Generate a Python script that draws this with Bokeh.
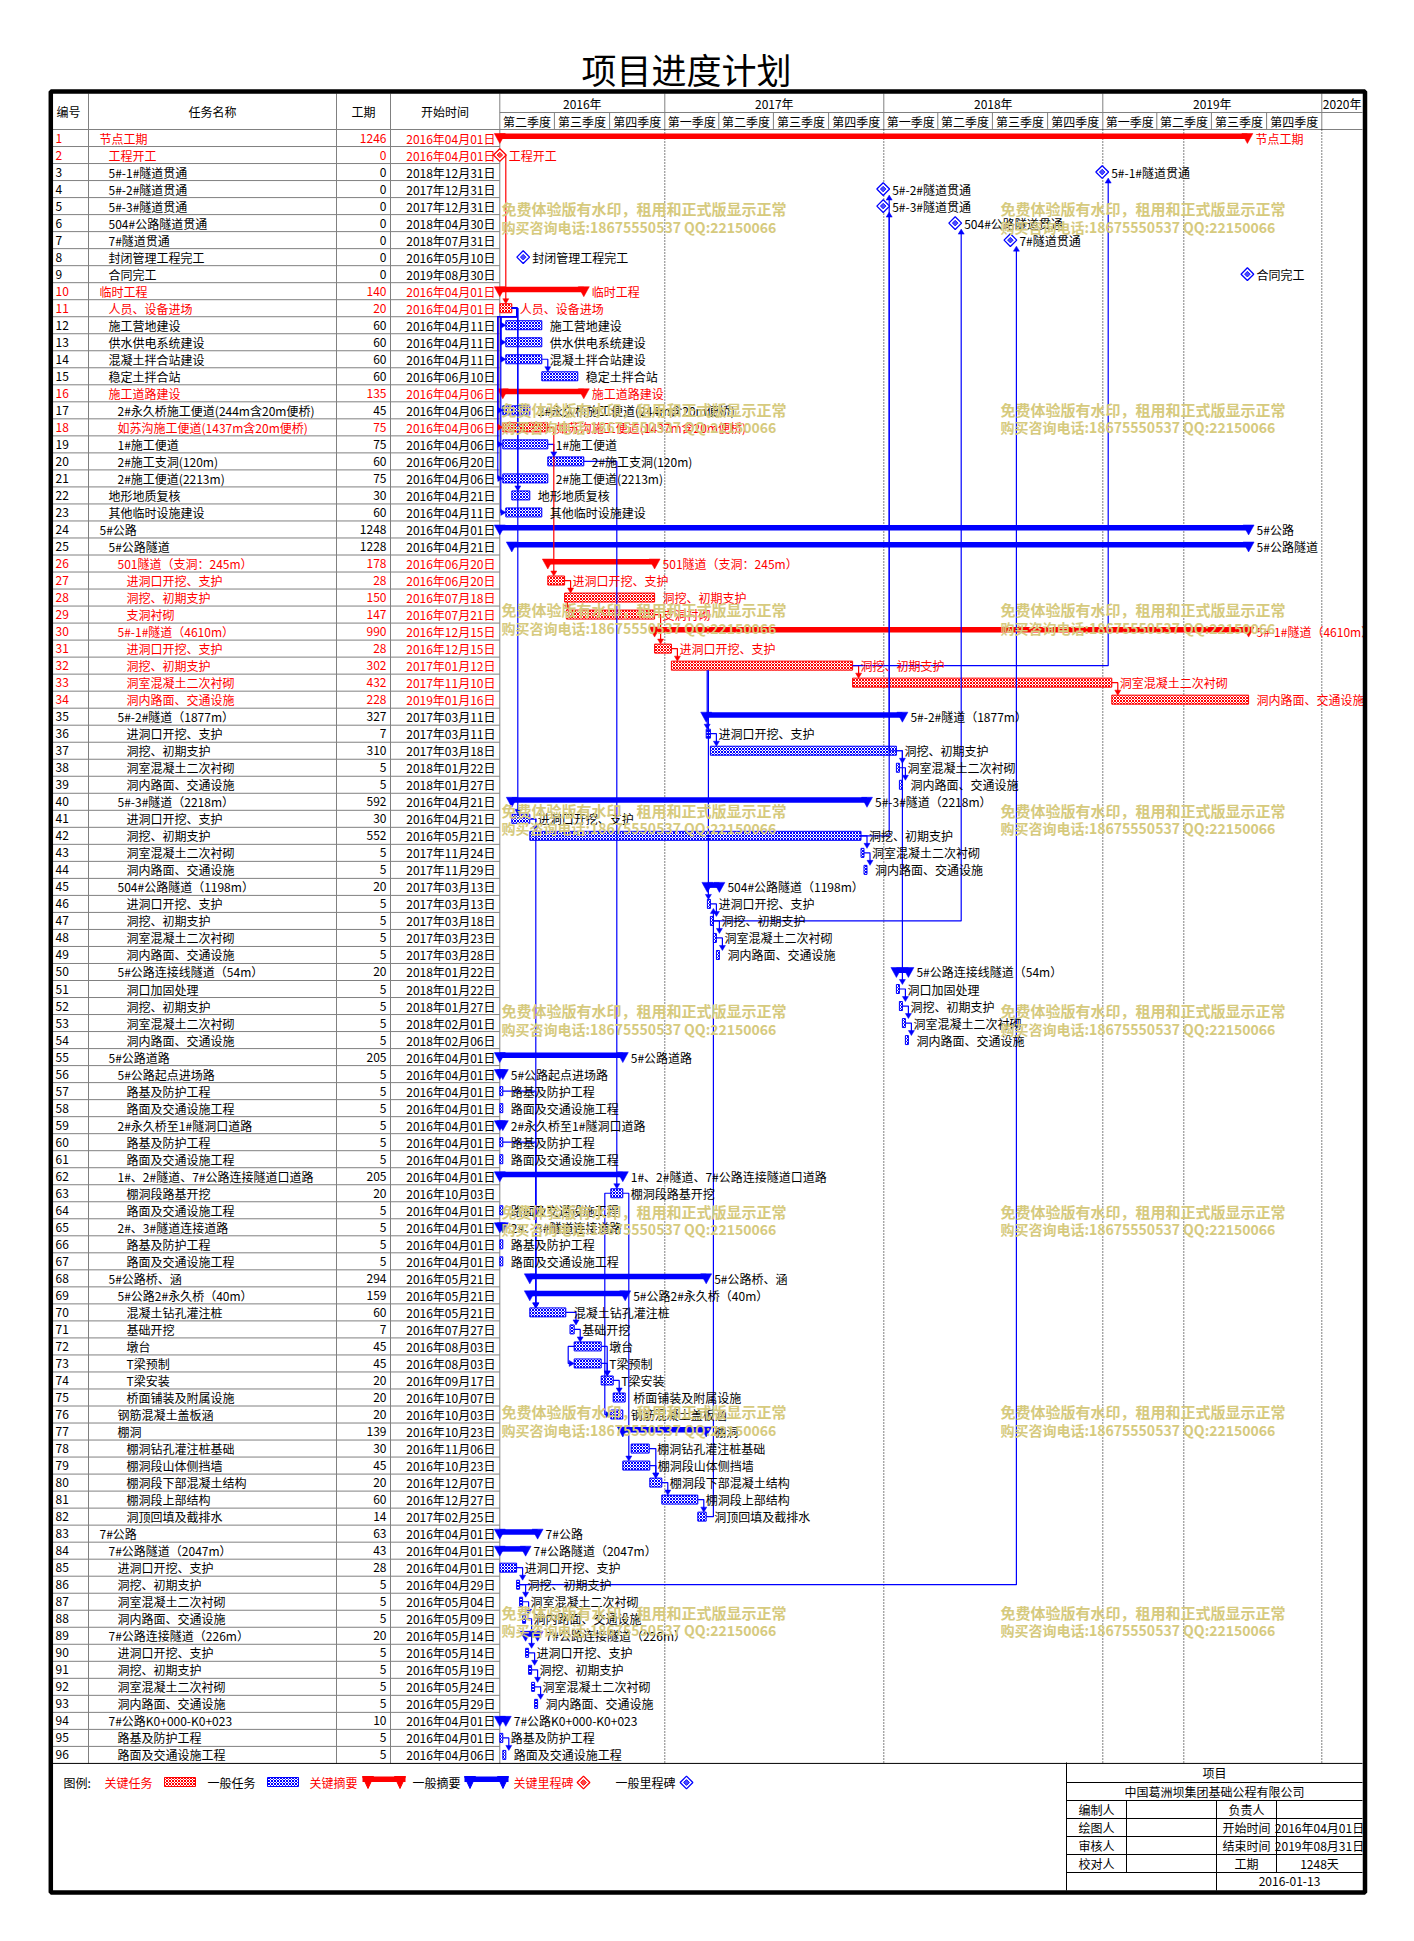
import numpy as np
import pandas as pd
from bokeh.plotting import figure
from bokeh.models import Range1d
from bokeh.core.properties import value
from bokeh.embed import file_html
from bokeh.resources import INLINE

# ---------------- data ----------------
task_names = [
    "节点工期", "工程开工", "5#-1#隧道贯通", "5#-2#隧道贯通", "5#-3#隧道贯通", "504#公路隧道贯通", "7#隧道贯通", "封闭管理工程完工", "合同完工",
    "临时工程", "人员、设备进场", "施工营地建设", "供水供电系统建设", "混凝土拌合站建设", "稳定土拌合站", "施工道路建设",
    "2#永久桥施工便道(244m含20m便桥)", "如苏沟施工便道(1437m含20m便桥)", "1#施工便道", "2#施工支洞(120m)", "2#施工便道(2213m)", "地形地质复核", "其他临时设施建设",
    "5#公路", "5#公路隧道", "501隧道（支洞：245m）", "进洞口开挖、支护", "洞挖、初期支护", "支洞衬砌",
    "5#-1#隧道（4610m）", "进洞口开挖、支护", "洞挖、初期支护", "洞室混凝土二次衬砌", "洞内路面、交通设施",
    "5#-2#隧道（1877m）", "进洞口开挖、支护", "洞挖、初期支护", "洞室混凝土二次衬砌", "洞内路面、交通设施",
    "5#-3#隧道（2218m）", "进洞口开挖、支护", "洞挖、初期支护", "洞室混凝土二次衬砌", "洞内路面、交通设施",
    "504#公路隧道（1198m）", "进洞口开挖、支护", "洞挖、初期支护", "洞室混凝土二次衬砌", "洞内路面、交通设施",
    "5#公路连接线隧道（54m）", "洞口加固处理", "洞挖、初期支护", "洞室混凝土二次衬砌", "洞内路面、交通设施",
    "5#公路道路", "5#公路起点进场路", "路基及防护工程", "路面及交通设施工程",
    "2#永久桥至1#隧洞口道路", "路基及防护工程", "路面及交通设施工程",
    "1#、2#隧道、7#公路连接隧道口道路", "棚洞段路基开挖", "路面及交通设施工程",
    "2#、3#隧道连接道路", "路基及防护工程", "路面及交通设施工程",
    "5#公路桥、涵", "5#公路2#永久桥（40m）", "混凝土钻孔灌注桩", "基础开挖", "墩台", "T梁预制", "T梁安装", "桥面铺装及附属设施", "钢筋混凝土盖板涵",
    "棚洞", "棚洞钻孔灌注桩基础", "棚洞段山体侧挡墙", "棚洞段下部混凝土结构", "棚洞段上部结构", "洞顶回填及截排水",
    "7#公路", "7#公路隧道（2047m）", "进洞口开挖、支护", "洞挖、初期支护", "洞室混凝土二次衬砌", "洞内路面、交通设施",
    "7#公路连接隧道（226m）", "进洞口开挖、支护", "洞挖、初期支护", "洞室混凝土二次衬砌", "洞内路面、交通设施",
    "7#公路K0+000-K0+023", "路基及防护工程", "路面及交通设施工程",
]
levels = [1, 2, 2, 2, 2, 2, 2, 2, 2,
          1, 2, 2, 2, 2, 2, 2,
          3, 3, 3, 3, 3, 2, 2,
          1, 2, 3, 4, 4, 4,
          3, 4, 4, 4, 4,
          3, 4, 4, 4, 4,
          3, 4, 4, 4, 4,
          3, 4, 4, 4, 4,
          3, 4, 4, 4, 4,
          2, 3, 4, 4,
          3, 4, 4,
          3, 4, 4,
          3, 4, 4,
          2, 3, 4, 4, 4, 4, 4, 4, 3,
          3, 4, 4, 4, 4, 4,
          1, 2, 3, 3, 3, 3,
          2, 3, 3, 3, 3,
          2, 3, 3]
durations = [1246, 0, 0, 0, 0, 0, 0, 0, 0,
             140, 20, 60, 60, 60, 60, 135,
             45, 75, 75, 60, 75, 30, 60,
             1248, 1228, 178, 28, 150, 147,
             990, 28, 302, 432, 228,
             327, 7, 310, 5, 5,
             592, 30, 552, 5, 5,
             20, 5, 5, 5, 5,
             20, 5, 5, 5, 5,
             205, 5, 5, 5,
             5, 5, 5,
             205, 20, 5,
             5, 5, 5,
             294, 159, 60, 7, 45, 45, 20, 20, 20,
             139, 30, 45, 20, 60, 14,
             63, 43, 28, 5, 5, 5,
             20, 5, 5, 5, 5,
             10, 5, 5]
start_dates = [
    "2016-04-01", "2016-04-01", "2018-12-31", "2017-12-31", "2017-12-31", "2018-04-30", "2018-07-31", "2016-05-10", "2019-08-30",
    "2016-04-01", "2016-04-01", "2016-04-11", "2016-04-11", "2016-04-11", "2016-06-10", "2016-04-06",
    "2016-04-06", "2016-04-06", "2016-04-06", "2016-06-20", "2016-04-06", "2016-04-21", "2016-04-11",
    "2016-04-01", "2016-04-21", "2016-06-20", "2016-06-20", "2016-07-18", "2016-07-21",
    "2016-12-15", "2016-12-15", "2017-01-12", "2017-11-10", "2019-01-16",
    "2017-03-11", "2017-03-11", "2017-03-18", "2018-01-22", "2018-01-27",
    "2016-04-21", "2016-04-21", "2016-05-21", "2017-11-24", "2017-11-29",
    "2017-03-13", "2017-03-13", "2017-03-18", "2017-03-23", "2017-03-28",
    "2018-01-22", "2018-01-22", "2018-01-27", "2018-02-01", "2018-02-06",
    "2016-04-01", "2016-04-01", "2016-04-01", "2016-04-01",
    "2016-04-01", "2016-04-01", "2016-04-01",
    "2016-04-01", "2016-10-03", "2016-04-01",
    "2016-04-01", "2016-04-01", "2016-04-01",
    "2016-05-21", "2016-05-21", "2016-05-21", "2016-07-27", "2016-08-03", "2016-08-03", "2016-09-17", "2016-10-07", "2016-10-03",
    "2016-10-23", "2016-11-06", "2016-10-23", "2016-12-07", "2016-12-27", "2017-02-25",
    "2016-04-01", "2016-04-01", "2016-04-01", "2016-04-29", "2016-05-04", "2016-05-09",
    "2016-05-14", "2016-05-14", "2016-05-19", "2016-05-24", "2016-05-29",
    "2016-04-01", "2016-04-01", "2016-04-06",
]
summary_rows = [1, 10, 16, 24, 25, 26, 30, 35, 40, 45, 50, 55, 56, 59, 62, 65, 68, 69, 77, 83, 84, 89, 94]
milestone_rows = [2, 3, 4, 5, 6, 7, 8, 9]
critical_rows = [1, 2, 10, 11, 16, 18, 26, 27, 28, 29, 30, 31, 32, 33, 34]

# dependency links: (predecessor row, successor row, routing style)
links = [
    (2, 11, "F"), (11, 12, "N"), (11, 13, "N"), (11, 14, "N"), (14, 15, "F"),
    (11, 17, "N"), (11, 18, "N"), (11, 19, "N"), (11, 21, "N"), (11, 23, "N"),
    (11, 22, "F"), (11, 41, "F"), (19, 20, "F"), (18, 27, "F"),
    (27, 28, "F"), (28, 29, "V"), (29, 31, "F"), (31, 32, "F"), (32, 33, "F"), (33, 34, "F"),
    (32, 3, "U"), (32, 36, "V"), (36, 37, "F"), (37, 38, "F"), (38, 39, "F"), (37, 4, "U"), (37, 51, "F"),
    (41, 42, "F"), (42, 43, "F"), (43, 44, "F"), (42, 5, "U"),
    (32, 46, "V"), (46, 47, "F"), (47, 48, "F"), (48, 49, "F"), (47, 6, "U"),
    (51, 52, "F"), (52, 53, "F"), (53, 54, "F"),
    (41, 70, "F"), (57, 70, "F"), (60, 70, "F"), (20, 63, "F"),
    (70, 71, "F"), (71, 72, "F"), (72, 73, "L"), (72, 74, "F"), (73, 74, "F"), (74, 75, "F"),
    (63, 76, "L"), (63, 79, "F"), (78, 80, "F"), (79, 80, "F"), (80, 81, "F"), (81, 82, "F"), (82, 46, "U"),
    (85, 86, "F"), (86, 87, "F"), (87, 88, "F"), (88, 90, "F"), (90, 91, "F"), (91, 92, "F"), (92, 93, "F"),
    (86, 7, "U"), (95, 96, "F"),
]

table_headers = ["编号", "任务名称", "工期", "开始时间"]
year_labels = ["2016年", "2017年", "2018年", "2019年", "2020年"]
year_starts = ["2016-04-01", "2017-01-01", "2018-01-01", "2019-01-01", "2020-01-01"]
quarter_labels = ["第二季度", "第三季度", "第四季度",
                  "第一季度", "第二季度", "第三季度", "第四季度",
                  "第一季度", "第二季度", "第三季度", "第四季度",
                  "第一季度", "第二季度", "第三季度", "第四季度", ""]
quarter_starts = ["2016-04-01", "2016-07-01", "2016-10-01",
                  "2017-01-01", "2017-04-01", "2017-07-01", "2017-10-01",
                  "2018-01-01", "2018-04-01", "2018-07-01", "2018-10-01",
                  "2019-01-01", "2019-04-01", "2019-07-01", "2019-10-01", "2020-01-01"]
dotted_dates = ["2017-01-01", "2018-01-01", "2019-01-01", "2019-05-16", "2020-01-01"]

title_text = "项目进度计划"
legend_title = "图例:"
legend_labels = ["关键任务", "一般任务", "关键摘要", "一般摘要", "关键里程碑", "一般里程碑"]
info_title = "项目"
info_company = "中国葛洲坝集团基础公程有限公司"
info_left = ["编制人", "绘图人", "审核人", "校对人"]
info_mid = ["负责人", "开始时间", "结束时间", "工期"]
info_right = ["", "2016年04月01日", "2019年08月31日", "1248天"]
info_date = "2016-01-13"
watermark_1 = "免费体验版有水印，租用和正式版显示正常"
watermark_2 = "购买咨询电话:18675550537 QQ:22150066"

# ---------------- layout helpers (page pixels -> data units) ----------------
ORIGIN = pd.Timestamp("2016-04-01")
PXD = 0.6        # pixels per day
X0 = 499.3       # page x of the origin date
RH = 17.02       # row height in pixels
Y0 = 129.0       # page y of the top of row 1
RED = "#ff0000"
BLUE = "#0000ff"
GRAY = "#808080"
WM = "#d6ca7e"
FONT = value("Noto Sans CJK SC")


def PX(xp):
    return (xp - X0) / PXD


def PY(yp):
    return (yp - Y0) / RH + 0.5


def DX(px_):
    return px_ / PXD


def DY(px_):
    return px_ / RH


def day(d):
    return float((pd.Timestamp(d) - ORIGIN).days)


W, H = 1396, 1918
p = figure(width=W, height=H, x_range=Range1d(PX(0), PX(W)), y_range=Range1d(PY(H), PY(0)),
           output_backend="svg", toolbar_location=None, min_border=0,
           x_axis_type=None, y_axis_type=None)
p.outline_line_color = None
p.background_fill_color = "white"
p.border_fill_color = "white"

n = len(task_names)
rows = np.arange(1, n + 1)
starts = np.array([day(d) for d in start_dates])
ends = starts + np.array(durations, dtype=float)
crit = np.array([r in critical_rows for r in rows])
is_sum = np.array([r in summary_rows for r in rows])
is_ms = np.array([r in milestone_rows for r in rows])
text_cols = np.where(crit, RED, "black")
main_cols = np.where(crit, RED, BLUE)

GX_END = PX(1362)


def txt(x, y, t, align="left", color="black", size="12px", style="normal", xoff=0):
    p.text(x=x, y=y, text=t, text_align=align, text_baseline="middle", text_color=color,
           text_font=FONT, text_font_size=size, text_font_style=style, x_offset=xoff)


# ---------------- title ----------------
txt([PX(686)], [PY(68)], [title_text], align="center", size="35px")

# ---------------- table grid ----------------
row_bounds = np.arange(1, n) + 0.5
p.segment(x0=PX(52), x1=PX(499.3), y0=row_bounds, y1=row_bounds, line_color=GRAY, line_width=1)
p.segment(x0=PX(52), x1=GX_END, y0=[0.5], y1=[0.5], line_color=GRAY, line_width=1)
for xp in [88, 336, 390, 499.3]:
    p.segment(x0=PX(xp), x1=PX(xp), y0=PY(93), y1=n + 0.5, line_color=GRAY, line_width=1)

# header texts
txt([PX(68), PX(212), PX(363), PX(444.5)], [PY(111)] * 4, table_headers, align="center")

# timeline header
ys_ = [day(d) for d in year_starts]
ye_ = ys_[1:] + [GX_END]
p.segment(x0=0, x1=GX_END, y0=PY(112), y1=PY(112), line_color=GRAY)
p.segment(x0=ys_[1:], x1=ys_[1:], y0=PY(93), y1=PY(112), line_color=GRAY)
txt([(a + b) / 2 for a, b in zip(ys_, ye_)], [PY(102.5)] * len(year_labels), year_labels, align="center")
qs_ = [day(d) for d in quarter_starts]
qe_ = qs_[1:] + [GX_END]
p.segment(x0=qs_[1:], x1=qs_[1:], y0=PY(112), y1=PY(129), line_color=GRAY)
txt([(a + b) / 2 for a, b in zip(qs_, qe_)], [PY(120.5)] * len(quarter_labels), quarter_labels, align="center")

# dotted date lines
dd = [day(d) for d in dotted_dates]
p.segment(x0=dd, x1=dd, y0=0.5, y1=n + 0.5, line_color="black", line_dash="1 2", line_width=1)

# bottom line of task area
p.segment(x0=PX(50), x1=GX_END, y0=n + 0.5, y1=n + 0.5, line_color="black", line_width=1)

# table texts
txt(np.full(n, PX(55)), rows, [str(r) for r in rows], color=text_cols)
txt(PX(90 + 9 * np.array(levels)), rows, task_names, color=text_cols)
txt(np.full(n, PX(386)), rows, [str(d) for d in durations], align="right", color=text_cols)
date_txt = [f"{pd.Timestamp(d).year}年{pd.Timestamp(d).month:02d}月{pd.Timestamp(d).day:02d}日" for d in start_dates]
txt(np.full(n, PX(495)), rows, date_txt, align="right", color=text_cols)

# ---------------- gantt bars ----------------
tmask = (~is_sum) & (~is_ms)
for colr in [RED, BLUE]:
    m = tmask & (main_cols == colr)
    p.quad(left=starts[m], right=ends[m], top=rows[m] - DY(4.5), bottom=rows[m] + DY(4.5),
           fill_color="white", line_color=colr, line_width=1,
           hatch_pattern="x", hatch_color=colr, hatch_scale=3.0, hatch_weight=1.0)

# summaries
for colr in [RED, BLUE]:
    m = is_sum & (main_cols == colr)
    p.quad(left=starts[m], right=ends[m], top=rows[m] - DY(4.5), bottom=rows[m] + DY(1.0),
           fill_color=colr, line_color=None)
    tx, ty = [], []
    for xs0, xe0, r in zip(starts[m], ends[m], rows[m]):
        for xc in (xs0, xe0):
            tx.append([xc - DX(5.5), xc + DX(5.5), xc])
            ty.append([r - DY(4.5), r - DY(4.5), r + DY(5.5)])
    p.patches(xs=tx, ys=ty, fill_color=colr, line_color=colr, line_width=0.5)

# ---------------- links ----------------
lx, ly, lc = [], [], []
ax, ay, ac = [], [], []
for a, b, kind in links:
    ia, ib = a - 1, b - 1
    colr = RED if (crit[ia] and crit[ib]) else BLUE
    xa_s, xa_e, xb = starts[ia], ends[ia], starts[ib]
    ya, yb = float(a), float(b)
    if kind == "F":
        xv = max(xa_e, xb) + DX(6)
        tip = yb - DY(4.5)
        lx.append([xa_e, xv, xv]); ly.append([ya, ya, tip - DY(4)])
        ax.append([xv, xv - DX(3), xv + DX(3)]); ay.append([tip, tip - DY(5), tip - DY(5)])
    elif kind == "U":
        xv = (xb if is_ms[ib] else max(xa_e, xb)) + DX(6)
        tip = yb + (DY(6) if is_ms[ib] else DY(4.5))
        lx.append([xa_e, xv, xv]); ly.append([ya, ya, tip + DY(4)])
        ax.append([xv, xv - DX(3), xv + DX(3)]); ay.append([tip, tip + DY(5), tip + DY(5)])
    elif kind == "V":
        xv = xb + DX(1)
        tip = yb - DY(4.5)
        lx.append([xv, xv]); ly.append([ya + DY(4.5), tip - DY(4)])
        ax.append([xv, xv - DX(3), xv + DX(3)]); ay.append([tip, tip - DY(5), tip - DY(5)])
    elif kind == "N":
        x1 = xa_e + DX(5)
        x2 = xb - DX(5)
        lx.append([xa_e, x1, x1, x2, x2, xb - DX(4)]); ly.append([ya, ya, ya + 0.5, ya + 0.5, yb, yb])
        ax.append([xb, xb - DX(5), xb - DX(5)]); ay.append([yb, yb - DY(3), yb + DY(3)])
    elif kind == "L":
        xv = min(xa_s, xb) - DX(6)
        lx.append([xa_s, xv, xv, xb - DX(4)]); ly.append([ya, ya, yb, yb])
        ax.append([xb, xb - DX(5), xb - DX(5)]); ay.append([yb, yb - DY(3), yb + DY(3)])
    lc.append(colr)
    ac.append(colr)
p.multi_line(xs=lx, ys=ly, line_color=lc, line_width=1.2)
p.patches(xs=ax, ys=ay, fill_color=ac, line_color=ac, line_width=0.5)

# milestones
p.scatter(x=starts[is_ms], y=rows[is_ms], marker="square", angle=np.pi / 4, size=9,
          fill_color="white", line_color=main_cols[is_ms], line_width=1.3)
p.scatter(x=starts[is_ms], y=rows[is_ms], marker="square", angle=np.pi / 4, size=4,
          fill_color=main_cols[is_ms], line_color=main_cols[is_ms], fill_alpha=0.7, line_width=0.8)

# gantt labels
lab_off = np.where(is_ms, 9, 8)
txt(ends, rows, task_names, color=text_cols, xoff=lab_off)

# ---------------- legend ----------------
LY = PY(1782)
txt([PX(63)], [LY], [legend_title])
txt([PX(x) for x in [104, 207, 309, 412, 513, 615]], [LY] * 6, legend_labels,
    color=[RED, "black", RED, "black", RED, "black"])
for (x0, x1), colr in zip([(164, 195), (267, 298)], [RED, BLUE]):
    p.quad(left=PX(x0), right=PX(x1), top=PY(1777), bottom=PY(1786), fill_color="white",
           line_color=colr, hatch_pattern="x", hatch_color=colr, hatch_scale=3.0, hatch_weight=1.0)
for (x0, x1), colr in zip([(362, 405), (464, 508)], [RED, BLUE]):
    p.quad(left=PX(x0), right=PX(x1), top=PY(1776), bottom=PY(1781.5), fill_color=colr, line_color=None)
    tx = [[PX(x0), PX(x0 + 11), PX(x0 + 5.5)], [PX(x1 - 11), PX(x1), PX(x1 - 5.5)]]
    ty = [[PY(1776), PY(1776), PY(1788)]] * 2
    p.patches(xs=tx, ys=ty, fill_color=colr, line_color=colr)
p.scatter(x=[PX(583), PX(686)], y=[LY, LY], marker="square", angle=np.pi / 4, size=9,
          fill_color="white", line_color=[RED, BLUE], line_width=1.3)
p.scatter(x=[PX(583), PX(686)], y=[LY, LY], marker="square", angle=np.pi / 4, size=4,
          fill_color=[RED, BLUE], line_color=[RED, BLUE], fill_alpha=0.7)

# ---------------- info box ----------------
ib_rows = [1762, 1782, 1800, 1818, 1836, 1854, 1872, 1890]
p.segment(x0=PX(1066), x1=PX(1066), y0=PY(1762), y1=PY(1890), line_color="black")
p.segment(x0=[PX(1066)] * 6, x1=[GX_END] * 6, y0=[PY(v) for v in ib_rows[1:7]],
          y1=[PY(v) for v in ib_rows[1:7]], line_color="black")
p.segment(x0=[PX(1126), PX(1276)], x1=[PX(1126), PX(1276)], y0=PY(1800), y1=PY(1872), line_color="black")
p.segment(x0=PX(1216), x1=PX(1216), y0=PY(1800), y1=PY(1890), line_color="black")
txt([PX(1214)], [PY(1772)], [info_title], align="center")
txt([PX(1214)], [PY(1791)], [info_company], align="center")
mids = [PY((a + b) / 2) for a, b in zip(ib_rows[2:6], ib_rows[3:7])]
txt([PX(1096)] * 4, mids, info_left, align="center")
txt([PX(1246)] * 4, mids, info_mid, align="center")
txt([PX(1319)] * 4, mids, info_right, align="center")
txt([PX(1289)], [PY(1881)], [info_date], align="center")

# ---------------- frame ----------------
p.quad(left=PX(50.3), right=PX(1364.5), top=PY(91), bottom=PY(1892), fill_color=None,
       line_color="black", line_width=4.5)

# ---------------- watermark ----------------
wm_y = [208 + k * 200.5 for k in range(8)]
wx, wy1, wy2 = [], [], []
for yv in wm_y:
    for xv in (501, 1000):
        wx.append(PX(xv)); wy1.append(PY(yv)); wy2.append(PY(yv + 18))
txt(wx, wy1, [watermark_1] * len(wx), color=WM, size="15px", style="bold")
txt(wx, wy2, [watermark_2] * len(wx), color=WM, size="14px", style="bold")

open("out.html", "w").write(file_html(p, INLINE))
